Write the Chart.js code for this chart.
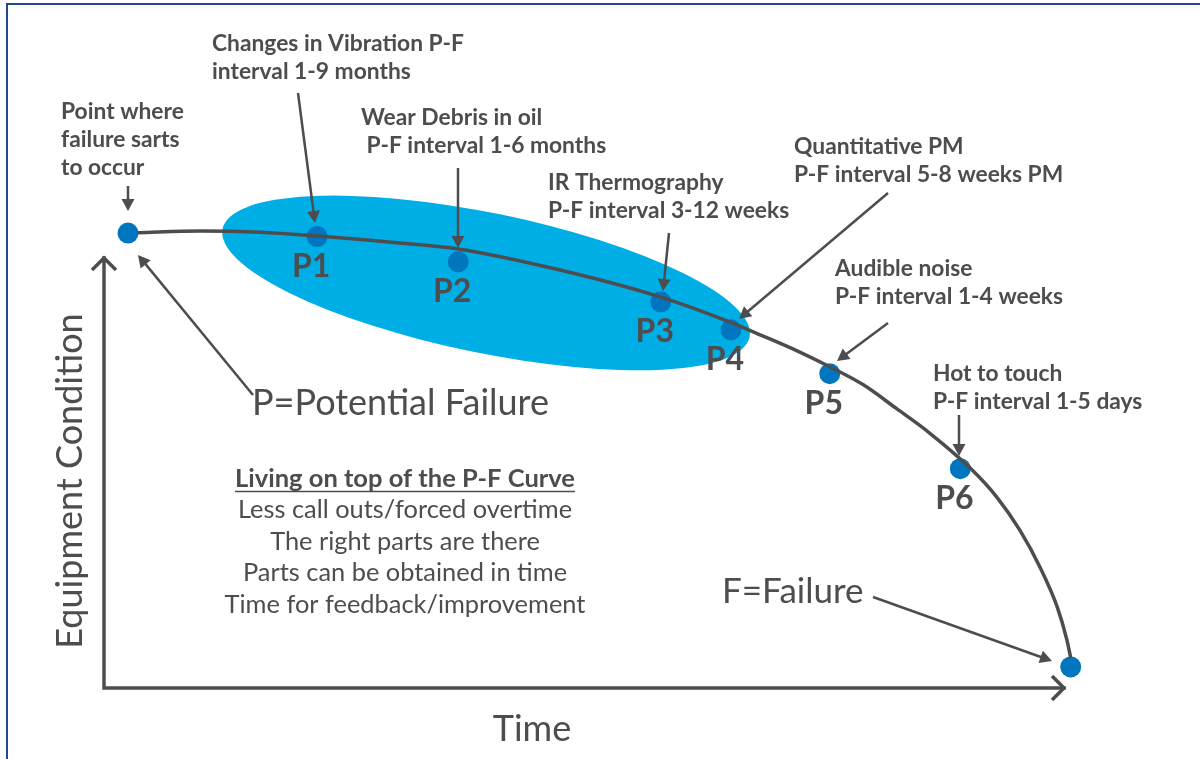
<!DOCTYPE html>
<html>
<head>
<meta charset="utf-8">
<script src="https://cdn.jsdelivr.net/npm/chart.js@4.4.0/dist/chart.umd.min.js"></script>
<style>
	html, body { margin: 0; padding: 0; background: #fff; }
	#wrap { width: 1200px; height: 759px; }
</style>
</head>
<body>
<div id="wrap"><canvas id="pf-chart" width="1200" height="759"></canvas></div>
<script>
// P-F curve (time 0-100, condition 0-100)
const curveTime = [3.5, 10.0, 16.3, 22.2, 30.8, 36.9, 47.5, 58.0, 65.2, 68.6, 72.2, 75.6, 79.1, 82.6, 86.0, 90.2, 93.0, 95.4, 97.5, 99.3, 100.3, 100.7]
const curveCondition = [105.9, 106.3, 106.0, 105.1, 103.5, 102.1, 97.2, 90.9, 85.1, 81.9, 78.4, 74.7, 70.5, 64.9, 59.3, 51.2, 44.4, 36.7, 28.1, 18.8, 11.2, 7.0]

const pointLabels = ['', 'P1', 'P2', 'P3', 'P4', 'P5', 'P6', '']
const pointTime = [2.5, 22.2, 36.9, 58.0, 65.3, 75.6, 89.2, 100.7]
const pointCondition = [105.8, 105.0, 99.1, 89.8, 83.3, 73.1, 51.0, 4.9]

const notes = [
	{ lines: ['Point where', 'failure sarts', 'to occur'], x: 61, y: 119, arrow: [128, 186, 128, 211] },
	{ lines: ['Changes in Vibration P-F', 'interval 1-9 months'], x: 212, y: 51, arrow: [298, 93, 315, 223] },
	{ lines: ['Wear Debris in oil', ' P-F interval 1-6 months'], x: 361, y: 125, arrow: [458, 168, 458, 248] },
	{ lines: ['IR Thermography', 'P-F interval 3-12 weeks'], x: 548, y: 190, arrow: [669, 233, 663, 291] },
	{ lines: ['Quantitative PM', 'P-F interval 5-8 weeks PM'], x: 794, y: 154, arrow: [888, 193, 739, 319] },
	{ lines: ['Audible noise', 'P-F interval 1-4 weeks'], x: 835, y: 276, arrow: [888, 323, 837, 361] },
	{ lines: ['Hot to touch', 'P-F interval 1-5 days'], x: 933, y: 381, arrow: [959, 415, 959, 456] },
]

const benefits = ['Less call outs/forced overtime', 'The right parts are there', 'Parts can be obtained in time', 'Time for feedback/improvement']

const ink = '#4d4d4f'
const dotBlue = '#0076c0'
const zoneBlue = '#00aee6'

const arrow = (ctx, x1, y1, x2, y2) => {
	const a = Math.atan2(y2 - y1, x2 - x1)
	const len = 12
	ctx.beginPath()
	ctx.moveTo(x1, y1)
	ctx.lineTo(x2 - Math.cos(a) * len * 0.8, y2 - Math.sin(a) * len * 0.8)
	ctx.stroke()
	ctx.beginPath()
	ctx.moveTo(x2, y2)
	ctx.lineTo(x2 - Math.cos(a) * len + Math.sin(a) * 6.5, y2 - Math.sin(a) * len - Math.cos(a) * 6.5)
	ctx.lineTo(x2 - Math.cos(a) * len - Math.sin(a) * 6.5, y2 - Math.sin(a) * len + Math.cos(a) * 6.5)
	ctx.closePath()
	ctx.fill()
}

const chevron = (ctx, x, y, angle) => {
	ctx.save()
	ctx.translate(x, y)
	ctx.rotate(angle)
	ctx.beginPath()
	ctx.moveTo(-12, -12)
	ctx.lineTo(0, 0)
	ctx.lineTo(-12, 12)
	ctx.stroke()
	ctx.restore()
}

const pfDecor = {
	id: 'pfDecor',
	beforeDatasetsDraw(chart) {
		const { ctx, scales: { x, y } } = chart
		ctx.save()
		// shaded zone around P1-P4
		ctx.fillStyle = zoneBlue
		ctx.beginPath()
		ctx.ellipse(x.getPixelForValue(39.8), y.getPixelForValue(94.2), 269, 70, 11.6 * Math.PI / 180, 0, Math.PI * 2)
		ctx.fill()
		// axes stop at 100 on both scales
		ctx.strokeStyle = ink
		ctx.lineWidth = 3.5
		ctx.lineCap = 'square'
		ctx.beginPath()
		ctx.moveTo(x.getPixelForValue(0), y.getPixelForValue(100))
		ctx.lineTo(x.getPixelForValue(0), y.getPixelForValue(0))
		ctx.lineTo(x.getPixelForValue(100), y.getPixelForValue(0))
		ctx.stroke()
		ctx.restore()
	},
	afterDatasetsDraw(chart) {
		const { ctx, scales: { x, y } } = chart
		ctx.save()
		ctx.fillStyle = ink
		ctx.strokeStyle = ink
		ctx.textBaseline = 'alphabetic'

		// point labels
		ctx.font = 'bold 32px Lato'
		ctx.textAlign = 'center'
		pointLabels.forEach((lbl, i) => {
			if (!lbl) return
			ctx.fillText(lbl, x.getPixelForValue(pointTime[i]) - 6, y.getPixelForValue(pointCondition[i]) + 40)
		})

		// callouts
		ctx.font = 'bold 22.8px Lato'
		ctx.textAlign = 'left'
		ctx.lineWidth = 2.5
		notes.forEach(n => {
			n.lines.forEach((line, i) => ctx.fillText(line, n.x, n.y + i * 28))
			arrow(ctx, ...n.arrow)
		})

		// big labels
		ctx.font = '36px Lato'
		ctx.fillText('P=Potential Failure', 252, 415)
		arrow(ctx, 253, 395, 138, 255)
		ctx.font = '35px Lato'
		ctx.fillText('F=Failure', 722, 603)
		arrow(ctx, 873, 597, 1052, 661)

		ctx.font = '36px Lato'
		ctx.textAlign = 'center'
		ctx.fillText('Time', 532, 741)
		ctx.save()
		ctx.translate(82, 481)
		ctx.rotate(-Math.PI / 2)
		ctx.fillText('Equipment Condition', 0, 0)
		ctx.restore()

		// benefits block
		ctx.font = 'bold 25.5px Lato'
		const head = 'Living on top of the P-F Curve'
		ctx.fillText(head, 405, 487)
		const w = ctx.measureText(head).width
		ctx.lineWidth = 1.5
		ctx.beginPath()
		ctx.moveTo(405 - w / 2, 491.5)
		ctx.lineTo(405 + w / 2, 491.5)
		ctx.stroke()
		ctx.font = '25.4px Lato'
		benefits.forEach((line, i) => ctx.fillText(line, 405, 518 + i * 31.7))

		// axis arrow heads
		ctx.lineWidth = 3.5
		chevron(ctx, x.getPixelForValue(0), y.getPixelForValue(100), -Math.PI / 2)
		chevron(ctx, x.getPixelForValue(100), y.getPixelForValue(0), 0)

		// frame
		ctx.strokeStyle = '#24498a'
		ctx.lineWidth = 2
		ctx.beginPath()
		ctx.moveTo(7, 759)
		ctx.lineTo(7, 4)
		ctx.lineTo(1200, 4)
		ctx.stroke()
		ctx.restore()
	}
}

const axisBase = {
	type: 'linear',
	min: 0,
	grid: { display: false, drawTicks: false },
	ticks: { display: false },
	border: { display: false }
}

const ctxPF = document.getElementById('pf-chart')
const pfChart = new Chart(ctxPF, {
	type: 'scatter',
	data: {
		datasets: [{
			type: 'line',
			data: curveTime.map((t, i) => { return { x: t, y: curveCondition[i] } }),
			borderColor: ink,
			borderWidth: 3.5,
			pointRadius: 0,
			cubicInterpolationMode: 'monotone',
			clip: false,
			order: 0
		},
		{
			data: pointTime.map((t, i) => { return { x: t, y: pointCondition[i] } }),
			backgroundColor: dotBlue,
			borderWidth: 0,
			pointRadius: 10.5,
			clip: false,
			order: 1
		}]
	},
	plugins: [pfDecor],
	options: {
		responsive: false,
		animation: false,
		layout: { padding: { left: 104, top: 206.4, right: 116.8, bottom: 71 } },
		plugins: {
			legend: { display: false },
			tooltip: { enabled: false }
		},
		scales: {
			x: { ...axisBase, max: 102 },
			y: { ...axisBase, max: 112 }
		}
	}
})
</script>
</body>
</html>
